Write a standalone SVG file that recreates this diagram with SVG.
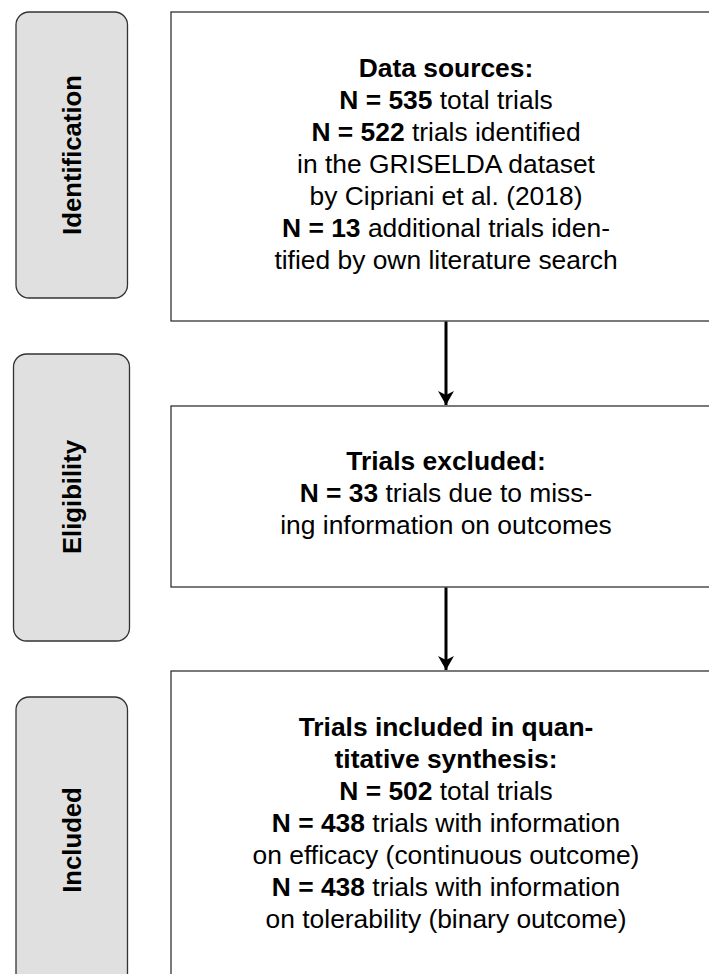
<svg xmlns="http://www.w3.org/2000/svg" width="709" height="974" viewBox="0 0 709 974">
<defs>
<style>
.lbl{fill:#e0e0e0;stroke:#333;stroke-width:1.3}
.box{fill:#fff;stroke:#333;stroke-width:1.3}
.lt{font-family:"Liberation Sans",Arial,sans-serif;font-size:25.7px;font-weight:bold;fill:#000;text-anchor:middle}
.t{font-family:"Liberation Sans",Arial,sans-serif;font-size:26.4px;fill:#000;text-anchor:middle}
.b{font-weight:bold}
.conn{stroke:#000;stroke-width:3;fill:none}
</style>
<marker id="ah" viewBox="0 0 14 16" refX="14" refY="8" markerWidth="14" markerHeight="16" markerUnits="userSpaceOnUse" orient="auto">
<path d="M0,0 L14,8 L0,16 L4,8 Z" fill="#000"/>
</marker>
</defs>
<rect width="709" height="974" fill="#fff"/>
<g id="label-identification">
<rect class="lbl" x="16" y="12" width="111.5" height="286" rx="13"/>
<text class="lt" transform="translate(81,155) rotate(-90)">Identification</text>
</g>
<g id="label-eligibility">
<rect class="lbl" x="13.5" y="354" width="116" height="287" rx="13"/>
<text class="lt" transform="translate(81,497) rotate(-90)">Eligibility</text>
</g>
<g id="label-included">
<rect class="lbl" x="16" y="697" width="111.5" height="290" rx="13"/>
<text class="lt" transform="translate(81,840) rotate(-90)">Included</text>
</g>
<g id="box-sources">
<rect class="box" x="171" y="12" width="550" height="309"/>
<text class="t" x="446" y="77"><tspan class="b">Data sources:</tspan></text>
<text class="t" x="446" y="109"><tspan class="b">N = 535</tspan> total trials</text>
<text class="t" x="446" y="141"><tspan class="b">N = 522</tspan> trials identified</text>
<text class="t" x="446" y="173">in the GRISELDA dataset</text>
<text class="t" x="446" y="205">by Cipriani et al. (2018)</text>
<text class="t" x="446" y="237"><tspan class="b">N = 13</tspan> additional trials iden-</text>
<text class="t" x="446" y="269">tified by own literature search</text>
</g>
<g id="box-excluded">
<rect class="box" x="171" y="406" width="550" height="181"/>
<text class="t" x="446" y="470"><tspan class="b">Trials excluded:</tspan></text>
<text class="t" x="446" y="502"><tspan class="b">N = 33</tspan> trials due to miss-</text>
<text class="t" x="446" y="534">ing information on outcomes</text>
</g>
<g id="box-included">
<rect class="box" x="171" y="671" width="550" height="320"/>
<text class="t" x="446" y="736"><tspan class="b">Trials included in quan-</tspan></text>
<text class="t" x="446" y="768"><tspan class="b">titative synthesis:</tspan></text>
<text class="t" x="446" y="800"><tspan class="b">N = 502</tspan> total trials</text>
<text class="t" x="446" y="832"><tspan class="b">N = 438</tspan> trials with information</text>
<text class="t" x="446" y="864">on efficacy (continuous outcome)</text>
<text class="t" x="446" y="896"><tspan class="b">N = 438</tspan> trials with information</text>
<text class="t" x="446" y="928">on tolerability (binary outcome)</text>
</g>
<g id="connectors">
<line class="conn" x1="446" y1="321.5" x2="446" y2="405" marker-end="url(#ah)"/>
<line class="conn" x1="446" y1="587.5" x2="446" y2="670" marker-end="url(#ah)"/>
</g>
</svg>
